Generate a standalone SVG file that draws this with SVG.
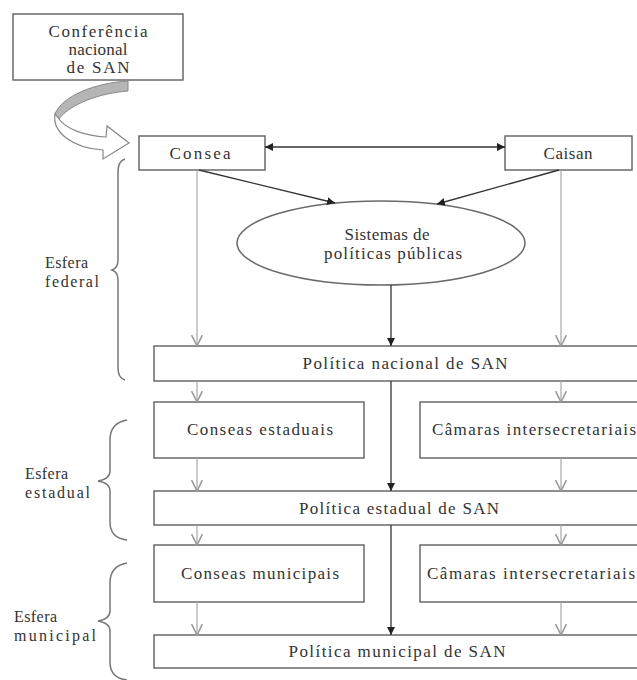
<svg xmlns="http://www.w3.org/2000/svg" width="637" height="680" viewBox="0 0 637 680">
<style>
.box{fill:#fff;stroke:#6a6a6a;stroke-width:1.5}
.t{font-family:"Liberation Serif","Times New Roman",serif;font-size:17px;fill:#333}
.s{font-size:16px}
.m{text-anchor:middle}
.blk{stroke:#333;stroke-width:1.3;fill:none}
.gry{stroke:#a8a8a8;stroke-width:1.2;fill:none}
.brace{stroke:#777;stroke-width:1.5;fill:none}
</style>
<defs>
<marker id="fh" viewBox="0 0 10 10" refX="10" refY="5" markerWidth="8" markerHeight="8" markerUnits="userSpaceOnUse" orient="auto-start-reverse">
<path d="M0,0 L10,5 L0,10 Z" fill="#222"/>
</marker>
<marker id="vh" viewBox="0 0 10 10" refX="10" refY="5" markerWidth="12" markerHeight="12" markerUnits="userSpaceOnUse" orient="auto">
<path d="M1,0.5 L10,5 L1,9.5" fill="none" stroke="#999" stroke-width="1.3"/>
</marker>
</defs>
<rect width="637" height="680" fill="#fff"/>

<g id="conferencia">
<rect class="box" x="13" y="14" width="170" height="66"/>
<text class="t m" x="98" y="37" textLength="99">Conferência</text>
<text class="t m" x="98" y="55" textLength="59">nacional</text>
<text class="t m" x="98" y="73" textLength="63">de SAN</text>
</g>

<g id="curved-arrow">
<path d="M128,81 C95,83 62,96 55,114 L59,119 C70,104 100,93 128,91 Z" fill="#b5b5b5" stroke="#888" stroke-width="1"/>
<path d="M55,114 C52,132 72,148 103,150 L103,159 L129,143 L107,126 L106,137 C85,136 66,129 59,119 Z" fill="#fff" stroke="#888" stroke-width="1.2"/>
</g>

<g id="consea">
<rect class="box" x="139" y="136" width="126" height="34"/>
<text class="t m" x="200" y="159" textLength="61">Consea</text>
</g>
<g id="caisan">
<rect class="box" x="505" y="136" width="127" height="34"/>
<text class="t m" x="568" y="159" textLength="49">Caisan</text>
</g>
<g id="sistemas">
<ellipse class="box" cx="381" cy="243" rx="144" ry="42"/>
<text class="t m" x="387" y="240" textLength="85">Sistemas de</text>
<text class="t m" x="393" y="259" textLength="138">políticas públicas</text>
</g>

<g id="politica-nacional">
<rect class="box" x="154" y="346" width="490" height="35"/>
<text class="t m" x="405" y="369" textLength="205">Política nacional de SAN</text>
</g>
<g id="conseas-estaduais">
<rect class="box" x="154" y="402" width="210" height="56"/>
<text class="t m" x="260" y="435" textLength="146">Conseas estaduais</text>
</g>
<g id="camaras-estaduais">
<rect class="box" x="420" y="402" width="224" height="56"/>
<text class="t" x="432" y="435" textLength="204">Câmaras intersecretariais</text>
</g>
<g id="politica-estadual">
<rect class="box" x="154" y="491" width="490" height="34"/>
<text class="t m" x="399" y="514" textLength="200">Política estadual de SAN</text>
</g>
<g id="conseas-municipais">
<rect class="box" x="154" y="545" width="210" height="57"/>
<text class="t m" x="260" y="579" textLength="158">Conseas municipais</text>
</g>
<g id="camaras-municipais">
<rect class="box" x="420" y="545" width="224" height="57"/>
<text class="t" x="427" y="579" textLength="208">Câmaras intersecretariais</text>
</g>
<g id="politica-municipal">
<rect class="box" x="154" y="635" width="490" height="33"/>
<text class="t m" x="397" y="657" textLength="217">Política municipal de SAN</text>
</g>

<g id="esfera-federal">
<path class="brace" d="M125,159 Q118,161 118,172 L118,260 Q118,268 112,270 Q118,272 118,280 L118,368 Q118,378 125,380"/>
<text class="t s" x="45" y="268" textLength="43">Esfera</text>
<text class="t s" x="45" y="287" textLength="54">federal</text>
</g>
<g id="esfera-estadual">
<path class="brace" d="M127,420 Q110,423 110,440 L110,471 Q110,479 98,481 Q110,483 110,491 L110,522 Q110,538 127,540"/>
<text class="t s" x="25" y="479" textLength="43">Esfera</text>
<text class="t s" x="25" y="498" textLength="65">estadual</text>
</g>
<g id="esfera-municipal">
<path class="brace" d="M127,563 Q110,566 110,583 L110,611 Q110,619 98,621 Q110,623 110,631 L110,662 Q110,678 127,680"/>
<text class="t s" x="14" y="622" textLength="43">Esfera</text>
<text class="t s" x="14" y="641" textLength="82">municipal</text>
</g>

<g id="connectors">
<line class="blk" x1="265" y1="147" x2="505" y2="147" marker-start="url(#fh)" marker-end="url(#fh)"/>
<line class="blk" x1="199" y1="170" x2="335" y2="203" marker-end="url(#fh)"/>
<line class="blk" x1="559" y1="170" x2="437" y2="204" marker-end="url(#fh)"/>
<line class="blk" x1="391" y1="285" x2="391" y2="346" marker-end="url(#fh)"/>
<line class="blk" x1="391" y1="381" x2="391" y2="491" marker-end="url(#fh)"/>
<line class="blk" x1="391" y1="525" x2="391" y2="635" marker-end="url(#fh)"/>
<line class="gry" x1="197" y1="170" x2="197" y2="346" marker-end="url(#vh)"/>
<line class="gry" x1="561" y1="170" x2="561" y2="346" marker-end="url(#vh)"/>
<line class="gry" x1="197" y1="381" x2="197" y2="402" marker-end="url(#vh)"/>
<line class="gry" x1="561" y1="381" x2="561" y2="402" marker-end="url(#vh)"/>
<line class="gry" x1="197" y1="458" x2="197" y2="491" marker-end="url(#vh)"/>
<line class="gry" x1="561" y1="458" x2="561" y2="491" marker-end="url(#vh)"/>
<line class="gry" x1="197" y1="525" x2="197" y2="545" marker-end="url(#vh)"/>
<line class="gry" x1="561" y1="525" x2="561" y2="545" marker-end="url(#vh)"/>
<line class="gry" x1="197" y1="602" x2="197" y2="635" marker-end="url(#vh)"/>
<line class="gry" x1="561" y1="602" x2="561" y2="635" marker-end="url(#vh)"/>
</g>
</svg>
